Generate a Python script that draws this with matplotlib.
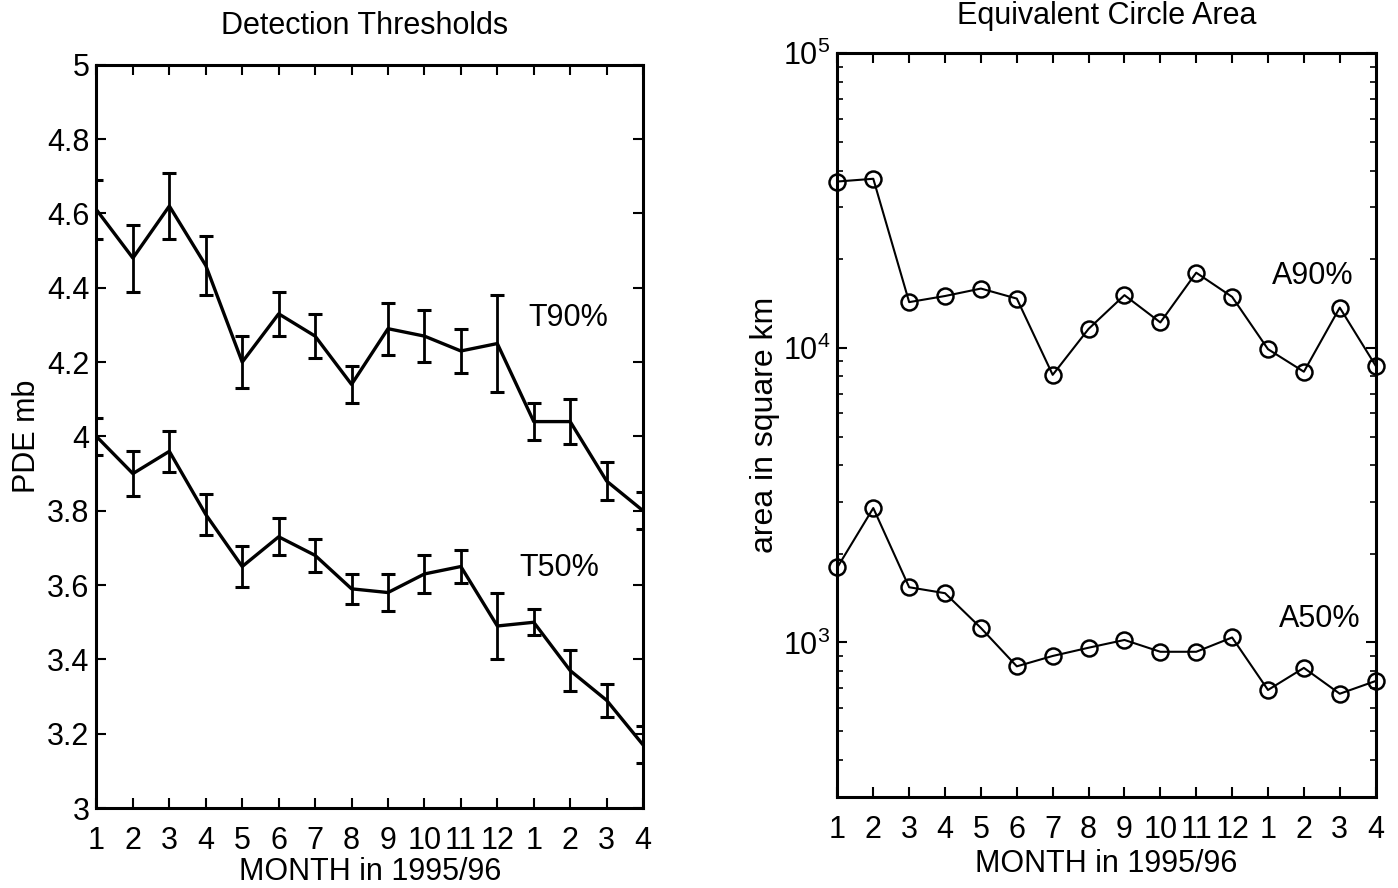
import matplotlib
matplotlib.use("Agg")
import matplotlib.pyplot as plt
import numpy as np

plt.rcParams['font.family'] = ['Liberation Sans', 'DejaVu Sans']
plt.rcParams['mathtext.fontset'] = 'custom'
plt.rcParams['mathtext.rm'] = 'Liberation Sans'

# months April 1995 .. April 1996 (16 points)
month_labels = ['1', '2', '3', '4', '5', '6', '7', '8', '9', '10', '11', '12', '1', '2', '3', '4']
months = np.arange(1, 17)

# detection thresholds (PDE mb) with error bars
t90 = [4.61, 4.48, 4.62, 4.46, 4.20, 4.33, 4.27, 4.14, 4.29, 4.27, 4.23, 4.25, 4.04, 4.04, 3.88, 3.80]
t90_err = [0.08, 0.09, 0.09, 0.08, 0.07, 0.06, 0.06, 0.05, 0.07, 0.07, 0.06, 0.13, 0.05, 0.06, 0.05, 0.05]
t50 = [4.00, 3.90, 3.96, 3.79, 3.65, 3.73, 3.68, 3.59, 3.58, 3.63, 3.65, 3.49, 3.50, 3.37, 3.29, 3.17]
t50_err = [0.05, 0.06, 0.055, 0.055, 0.055, 0.05, 0.045, 0.04, 0.05, 0.05, 0.045, 0.09, 0.035, 0.055, 0.045, 0.05]

# equivalent circle area (square km)
a90 = [36700, 37500, 14300, 15000, 15900, 14700, 8100, 11600, 15100, 12200, 18000, 14900, 9900, 8300, 13700, 8700]
a50 = [1800, 2860, 1540, 1470, 1120, 830, 900, 960, 1020, 930, 930, 1040, 690, 820, 670, 740]

fs = 22

fig = plt.figure(figsize=(13.98, 8.88), dpi=100)
ax1 = fig.add_axes([0.069, 0.090, 0.391, 0.837])
ax2 = fig.add_axes([0.599, 0.103, 0.385, 0.837])

# left panel
for y, e in [(t90, t90_err), (t50, t50_err)]:
    ax1.errorbar(months, y, yerr=e, color='black', lw=2.4, elinewidth=2,
                 capsize=5, capthick=2.2)
ax1.set_xlim(1, 16)
ax1.set_ylim(3, 5)
ax1.set_yticks(np.arange(3, 5.01, 0.2))
ax1.set_yticklabels(['3', '3.2', '3.4', '3.6', '3.8', '4', '4.2', '4.4', '4.6', '4.8', '5'])
ax1.set_ylabel('PDE mb', fontsize=fs, labelpad=4)
ax1.text(0.49, 1.052, 'Detection Thresholds', fontsize=fs, ha='center', va='center',
         transform=ax1.transAxes)
ax1.text(12.85, 4.32, 'T90%', fontsize=fs, va='center')
ax1.text(12.6, 3.645, 'T50%', fontsize=fs, va='center')
ax1.xaxis.set_label_coords(0.5, -0.066)

# right panel
for y in [a90, a50]:
    ax2.plot(months, y, color='black', lw=1.5, marker='o', ms=11.5, mfc='none',
             mew=1.8, clip_on=False)
ax2.set_yscale('log')
ax2.set_xlim(1, 16)
ax2.set_ylim(300, 1e5)
ax2.set_ylabel('area in square km', fontsize=fs + 1, labelpad=2)
ax2.text(0.5, 1.05, 'Equivalent Circle Area', fontsize=fs, ha='center', va='center',
         transform=ax2.transAxes)
ax2.text(13.1, 17600, 'A90%', fontsize=fs, va='center')
ax2.text(13.3, 1200, 'A50%', fontsize=fs, va='center')
ax2.xaxis.set_label_coords(0.5, -0.07)

for ax in (ax1, ax2):
    ax.set_xticks(months)
    ax.set_xticklabels(month_labels)
    ax.set_xlabel('MONTH in 1995/96', fontsize=fs)
    ax.tick_params(direction='in', top=True, right=True, length=7, width=1.5,
                   labelsize=fs)
    ax.tick_params(which='minor', direction='in', right=True, length=4, width=1.2)
    ax.tick_params(axis='x', pad=13)
    ax.tick_params(axis='y', pad=5)
    for s in ax.spines.values():
        s.set_linewidth(2.2)

plt.savefig('out.png', dpi=100)
